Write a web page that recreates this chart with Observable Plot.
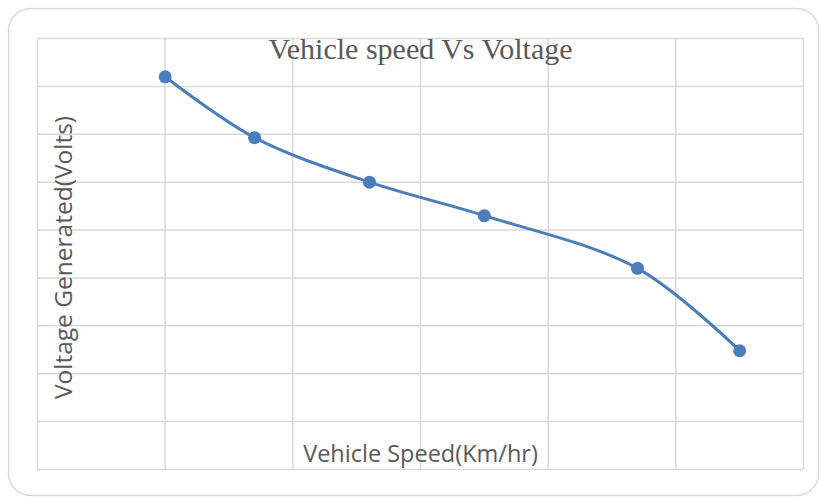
<!DOCTYPE html>
<html>
<head>
<meta charset="utf-8">
<script src="https://cdn.jsdelivr.net/npm/d3@7"></script>
<script src="https://cdn.jsdelivr.net/npm/@observablehq/plot@0.6"></script>
<style>
  html, body { margin: 0; padding: 0; background: #fff; }
</style>
</head>
<body>
<div id="chart"></div>
<script>
// Data
const speed = [10, 17, 26, 35, 47, 55];          // Vehicle Speed (Km/hr)
const voltage = [8.2, 6.93, 6.0, 5.3, 4.2, 2.48]; // Voltage Generated (Volts)
const xGrid = [0, 10, 20, 30, 40, 50, 60];
const yGrid = [0, 1, 2, 3, 4, 5, 6, 7, 8, 9];
const titleText = "Vehicle speed Vs Voltage";
const xLabel = "Vehicle Speed(Km/hr)";
const yLabel = "Voltage Generated(Volts)";

const data = speed.map((s, i) => ({speed: s, voltage: voltage[i]}));

const chart = Plot.plot({
  width: 821,
  height: 498,
  marginLeft: 37,
  marginRight: 18,
  marginTop: 38,
  marginBottom: 29,
  style: {background: "#fff", overflow: "visible"},
  x: {domain: [0, 60], axis: null},
  y: {domain: [0, 9], axis: null},
  marks: [
    Plot.frame({stroke: "#d9d9d9", strokeWidth: 1.5, rx: 22,
      insetLeft: -29, insetTop: -30, insetRight: -15, insetBottom: -26}),
    Plot.gridX(xGrid, {stroke: "#d9d9d9", strokeOpacity: 1, strokeWidth: 1.5}),
    Plot.gridY(yGrid, {stroke: "#d9d9d9", strokeOpacity: 1, strokeWidth: 1.5}),
    Plot.text([titleText], {frameAnchor: "top", lineAnchor: "bottom", dy: 20, fontFamily: "Liberation Serif", fontSize: 30, fill: "#595959"}),
    Plot.text([xLabel], {frameAnchor: "bottom", lineAnchor: "bottom", dy: -8, fontFamily: "Open Sans", fontSize: 23.5, fill: "#595959"}),
    Plot.text([yLabel], {frameAnchor: "left", textAnchor: "middle", lineAnchor: "bottom", dx: 34, dy: 3.5, rotate: -90, fontFamily: "Open Sans", fontSize: 24.5, fill: "#595959"}),
    Plot.line(data, {x: "speed", y: "voltage", curve: "catmull-rom", stroke: "#4a7ebb", strokeWidth: 3}),
    Plot.dot(data, {x: "speed", y: "voltage", r: 6.5, fill: "#4a7ebb", stroke: "none"})
  ]
});
document.getElementById("chart").appendChild(chart);
</script>
</body>
</html>
